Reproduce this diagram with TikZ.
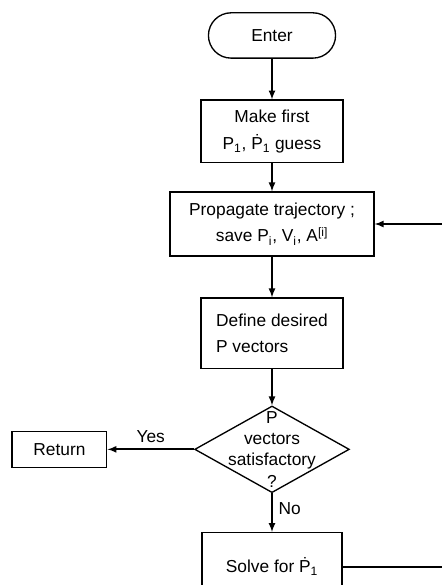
\documentclass[tikz,border=0pt]{standalone}
\usepackage{fontspec}
\setmainfont{Liberation Sans}
\usetikzlibrary{arrows,positioning,shapes.geometric,shapes.misc}

\begin{document}
\begin{tikzpicture}[>=latex,line width=1pt,node font=\fontsize{13}{20}\selectfont,on grid,auto]
	\tikzstyle{block}=[draw,rectangle,align=center,inner sep=2pt]
	\tikzstyle{terminal}=[draw,rounded rectangle,minimum width=104pt,minimum height=34pt]
	\tikzstyle{decision}=[draw,diamond,minimum width=116pt,minimum height=65pt,inner sep=0pt]
	\tikzstyle{flow}=[->,line width=1.3pt]

	\useasboundingbox (0,0) rectangle (331.5pt,-438.75pt);
	\clip (0,0) rectangle (331.5pt,-438.75pt);

	\node[terminal] (enter) at (204pt,-26.6pt) {Enter};
	\node[block,minimum width=106.5pt,minimum height=47pt] (guess) [below=72pt of enter] {Make first\\P\textsubscript{1}, \.P\textsubscript{1} guess};
	\node[block,minimum width=153pt,minimum height=48pt] (prop) [below=69.4pt of guess] {Propagate trajectory ;\\save P\textsubscript{i}, V\textsubscript{i}, A\textsuperscript{[i]}};
	\node[block,align=left,minimum width=106.5pt,minimum height=53pt] (define) [below=82pt of prop] {Define desired\\P vectors};
	\node[decision] (check) [below=87pt of define] {};
	\node[align=center,font=\fontsize{13}{16}\selectfont] (checktext) at (check) {P\\vectors\\satisfactory\\?};
	\node[block,minimum width=71pt,minimum height=27pt] (ret) [left=159.4pt of check] {Return};
	\node[block,minimum width=105pt,minimum height=51pt] (solve) [below=88pt of check] {Solve for \.P\textsubscript{1}};

	\path[flow]
	(enter) edge (guess)
	(guess) edge (prop)
	(prop) edge (define)
	(define) edge (check)
	(check) edge node [above] {Yes} (ret)
	(check) edge node [right,pos=0.4] {No} (solve);
	\draw[flow] (solve.east) -- ++(90pt,0) |- (prop.east);
\end{tikzpicture}
\end{document}
